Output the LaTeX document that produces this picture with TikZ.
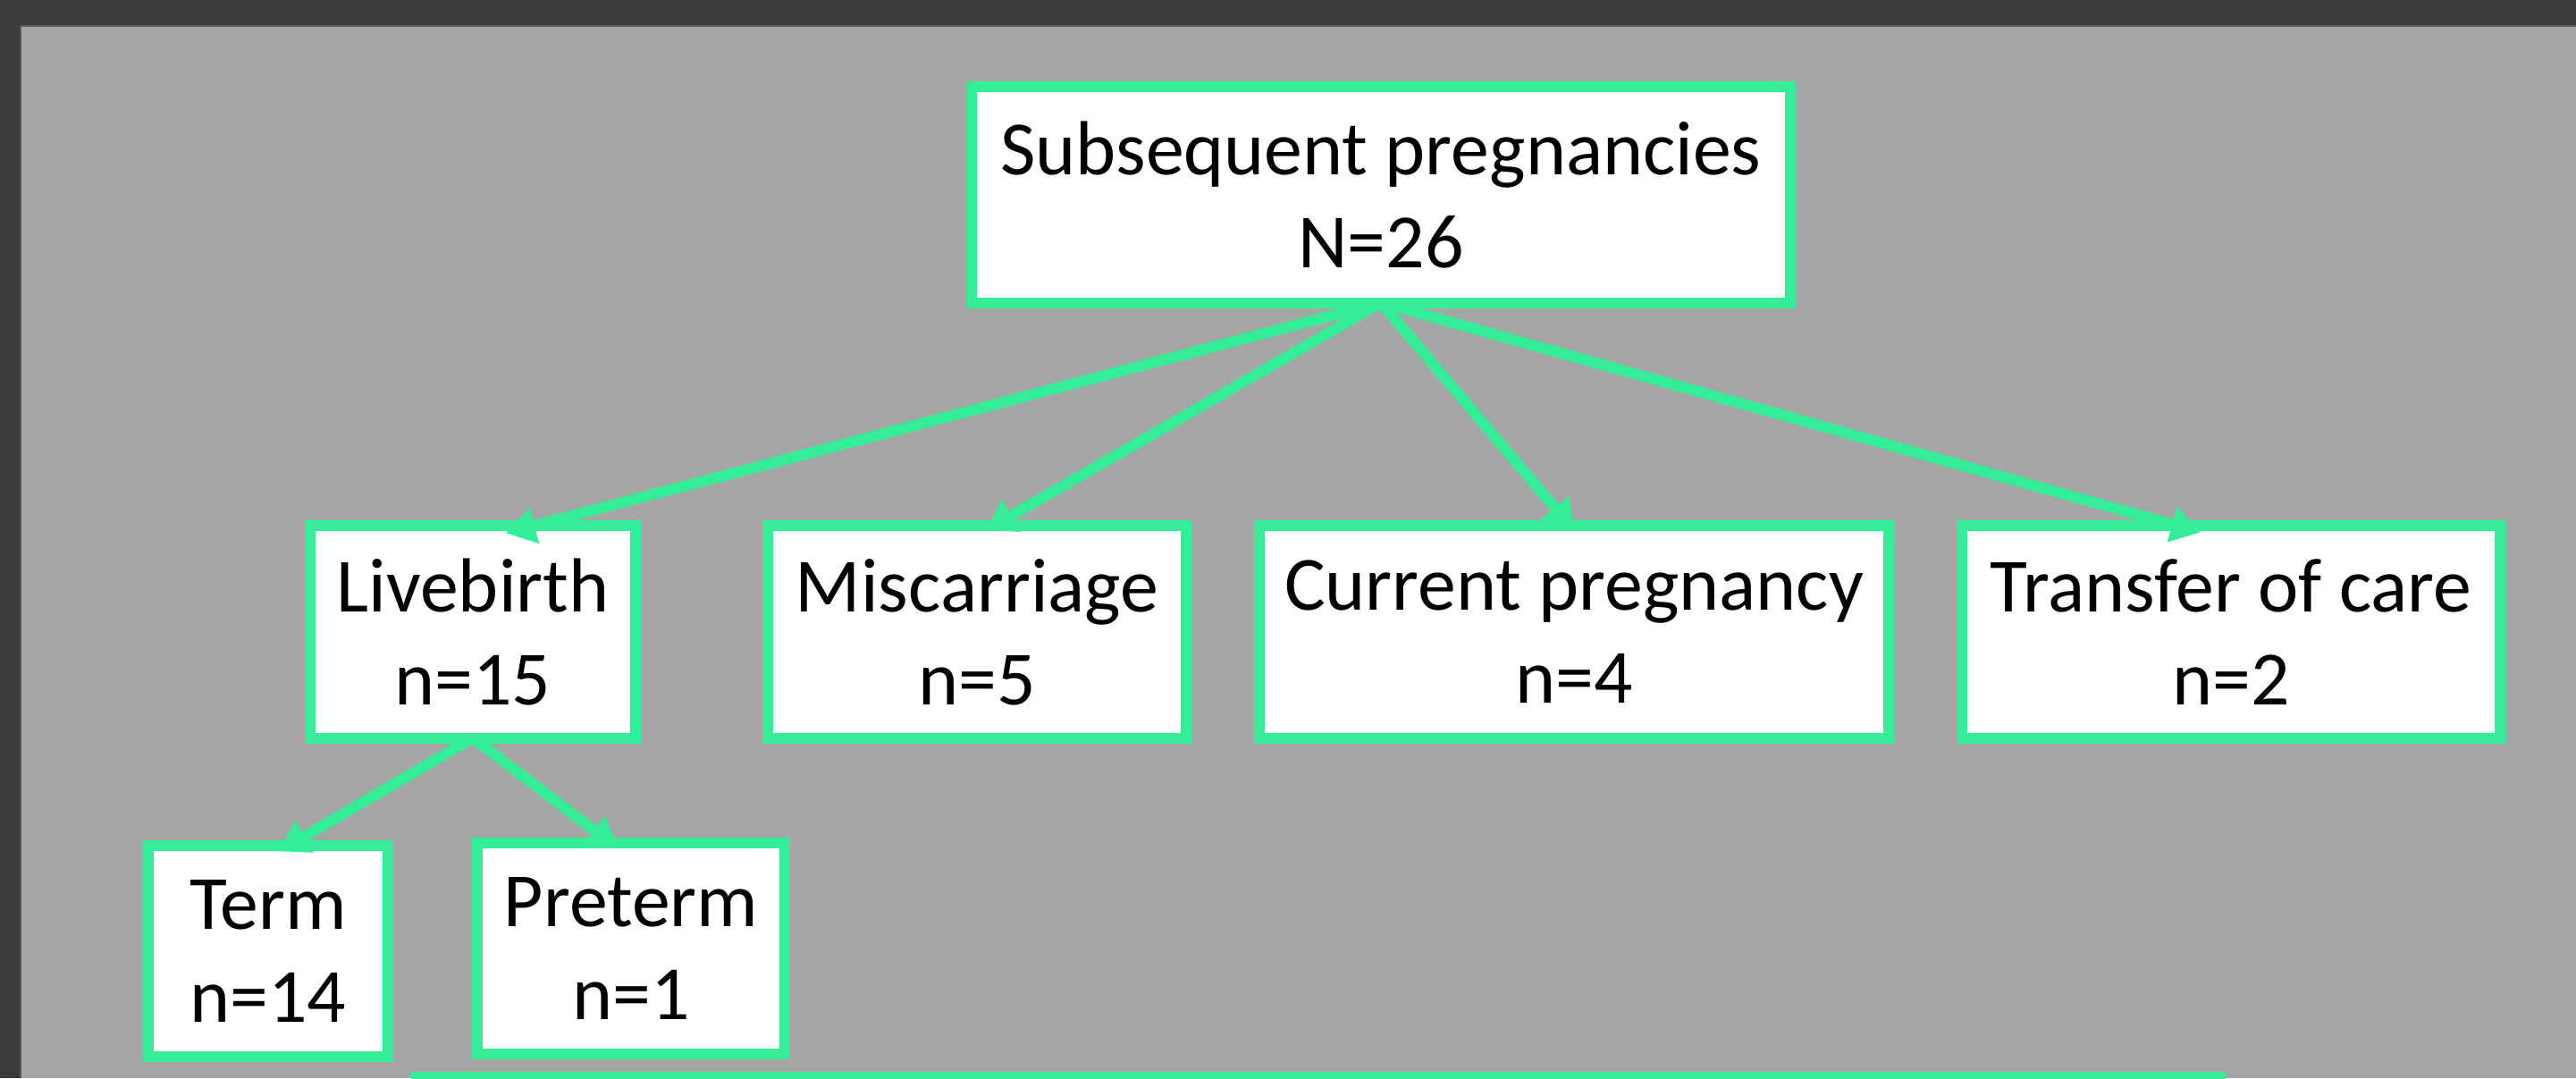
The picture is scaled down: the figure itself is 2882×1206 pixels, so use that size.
\documentclass[tikz,border=0pt]{standalone}
\usepackage{fontspec}
\setmainfont{Carlito}
\usetikzlibrary{calc}
\usetikzlibrary{arrows.meta}
\definecolor{boxgreen}{RGB}{51,238,150}
\definecolor{slidegray}{RGB}{166,166,166}
\definecolor{framedark}{RGB}{60,60,60}
\tikzset{
  outcome/.style={draw=boxgreen,line width=0.12cm,fill=white,outer sep=0pt,
    align=center,inner sep=0pt,font=\fontsize{24.4}{29.6}\selectfont},
  flow/.style={draw=boxgreen,line width=0.12cm,-{Triangle[length=0.33cm,width=0.39cm]}}
}

\begin{document}
\begin{tikzpicture}[x=0.01cm,y=-0.01cm]
	\useasboundingbox (0,0) rectangle (2882,1206);
	\fill [framedark] (0,0) rectangle (2882,1206);
	\fill [slidegray] (23,29) rectangle (2882,1206);
	\draw [gray!70!black,line width=0.5pt] (23,1206) -- (23,29) -- (2882,29);

	\node [outcome,minimum width=9.16cm,minimum height=2.41cm] (subseq) at (1545,218) {Subsequent pregnancies\\N=26};

	\node [outcome,minimum width=3.63cm,minimum height=2.37cm] (live) at (529,707) {Livebirth\\n=15};
	\node [outcome,minimum width=4.68cm,minimum height=2.37cm] (misc) at (1093,707) {Miscarriage\\n=5};
	\node [outcome,minimum width=7.04cm,minimum height=2.37cm] (curr) at (1761,707) {Current pregnancy\\n=4};
	\node [outcome,minimum width=6.01cm,minimum height=2.37cm] (transfer) at (2496,707) {Transfer of care\\n=2};

	\node [outcome,minimum width=2.67cm,minimum height=2.35cm] (term) at (300,1064) {Term\\n=14};
	\node [outcome,minimum width=3.44cm,minimum height=2.36cm] (preterm) at (706,1061) {Preterm\\n=1};

	% box below, cut by the frame
	\begin{scope}
		\clip (0,0) rectangle (2882,1206);
		\draw [boxgreen,line width=0.12cm,fill=white] (466,1300) rectangle (2484,1205);
	\end{scope}

	\draw [flow] (subseq.south) -- ($(live.north)+(37,8)$);
	\draw [flow] (subseq.south) -- ($(misc.north)+(10,5)$);
	\draw [flow] (subseq.south) -- ($(curr.north)+(0,5)$);
	\draw [flow] (subseq.south) -- ($(transfer.north)+(-34,7)$);

	\draw [flow] (live.south) -- ($(term.north)+(12,6)$);
	\draw [flow] (live.south) -- ($(preterm.north)+(-15,6)$);
\end{tikzpicture}
\end{document}
